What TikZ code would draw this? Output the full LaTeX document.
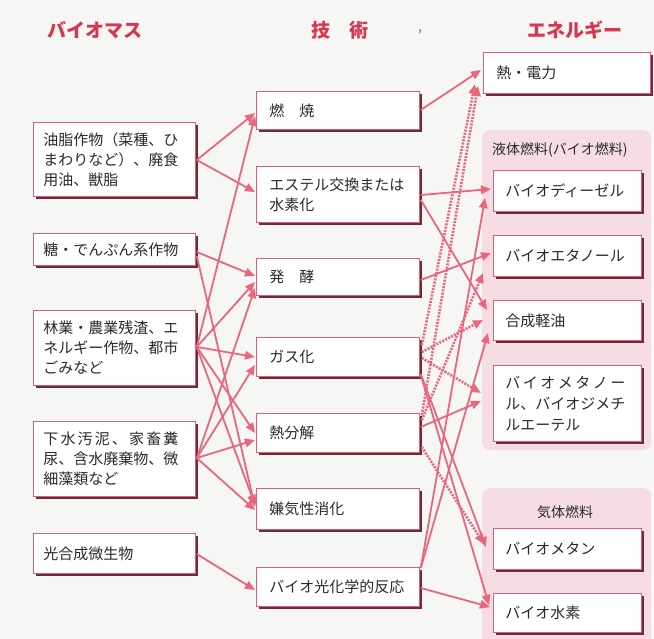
\documentclass[tikz,border=0pt]{standalone}
\usepackage{fontspec}
\newfontfamily\jp{Noto Sans CJK JP}
\usetikzlibrary{arrows.meta,shadows,calc}
\definecolor{bg}{HTML}{F6F6F4}
\definecolor{arrc}{HTML}{E8677D}
\definecolor{bord}{HTML}{D9607A}
\definecolor{shadc}{HTML}{6E2A3A}
\definecolor{headc}{HTML}{D8354F}
\definecolor{txtc}{HTML}{2A2A2A}
\definecolor{pinkc}{HTML}{F6DCE3}
\begin{document}
\begin{tikzpicture}[x=1pt,y=-1pt,
  bx/.style={draw=bord, fill=white, line width=0.8pt, anchor=north west,
    inner xsep=0pt, inner ysep=0pt, align=left,
    font=\jp\fontsize{15}{20}\selectfont, text=txtc,
    drop shadow={shadow xshift=2.6pt, shadow yshift=-2.6pt, fill=shadc, opacity=1}},
  lbox/.style={bx, minimum width=162pt, text width=142pt},
  mbox/.style={bx, minimum width=163pt, text width=137pt},
  rbox/.style={bx, minimum width=148pt, text width=124pt},
  head/.style={font=\jp\bfseries\fontsize{19}{19}\selectfont, text=headc, inner sep=0pt},
  region/.style={fill=pinkc, rounded corners=8pt, anchor=north west, inner sep=0pt, minimum width=169pt},
  rlabel/.style={font=\jp\fontsize{14}{14}\selectfont, text=txtc, inner sep=0pt},
  arr/.style={draw=arrc, line width=1.8pt, -{Triangle[length=10pt,width=8.5pt]}},
  darr/.style={arr, line width=2.6pt, dash pattern=on 2pt off 1.3pt}
]
\useasboundingbox (0,0) rectangle (654,639);
\fill[bg] (0,0) rectangle (654,639);

% headings
\node[head] (h1) at (95,30) {バイオマス};
\node[head] (h2) at (340,30) {技　術};
\node[font=\jp\fontsize{14}{14}\selectfont, text=gray, inner sep=0pt] (cm) at (420,32) {,};
\node[head] (h3) at (575,30) {エネルギー};

% regions
\node[region, minimum height=320pt] (liq) at (482,130) {};
\node[rlabel, anchor=west] (liqlab) at (492,150) {液体燃料(バイオ燃料)};
\node[region, minimum height=165pt] (gas) at (482,488) {};
\node[rlabel] (gaslab) at (565,512) {気体燃料};

% biomass
\node[lbox, minimum height=74pt] (L1) at (33,122) {油脂作物（菜種、ひ\\まわりなど）、廃食\\用油、獣脂};
\node[lbox, minimum height=32pt] (L2) at (33,233) {糖・でんぷん系作物};
\node[lbox, minimum height=75pt] (L3) at (33,310) {林業・農業残渣、エ\\ネルギー作物、都市\\ごみなど};
\node[lbox, minimum height=75pt] (L4) at (33,421) {\makebox[135pt][s]{下\hfil 水\hfil 汚\hfil 泥\hfil 、\hfil 家\hfil 畜\hfil 糞}\\尿、含水廃棄物、微\\細藻類など};
\node[lbox, minimum height=40pt] (L5) at (33,533) {光合成微生物};

% technology
\node[mbox, minimum height=38pt] (M1) at (256,91) {燃　焼};
\node[mbox, minimum height=56pt] (M2) at (256,166) {エステル交換または\\水素化};
\node[mbox, minimum height=37pt] (M3) at (256,258) {発　酵};
\node[mbox, minimum height=39pt] (M4) at (256,337) {ガス化};
\node[mbox, minimum height=39pt] (M5) at (256,413) {熱分解};
\node[mbox, minimum height=41pt] (M6) at (256,488) {嫌気性消化};
\node[mbox, minimum height=39pt] (M7) at (256,567) {バイオ光化学的反応};

% energy
\node[bx, minimum width=167pt, text width=141pt, minimum height=41pt] (R0) at (483,52) {熱・電力};
\node[rbox, minimum height=41pt] (R1) at (493,170) {バイオディーゼル};
\node[rbox, minimum height=41pt] (R2) at (493,235) {バイオエタノール};
\node[rbox, minimum height=40pt] (R3) at (493,300) {合成軽油};
\node[rbox, minimum height=76pt, font=\jp\fontsize{15}{21}\selectfont] (R4) at (493,365) {\makebox[120pt][s]{バ\hfil イ\hfil オ\hfil メ\hfil タ\hfil ノ\hfil ー}\\ル、バイオジメチ\\ルエーテル};
\node[rbox, minimum height=41pt] (R5) at (493,528) {バイオメタン};
\node[rbox, minimum height=39pt] (R6) at (493,593) {バイオ水素};

% biomass -> technology
\draw[arr] ($(L1.north east)+(1,38)$) -- ($(M1.north west)+(-1,22)$);
\draw[arr] ($(L1.north east)+(1,38)$) -- ($(M2.north west)+(-1,26)$);
\draw[arr] ($(L2.north east)+(1,19)$) -- ($(M3.north west)+(-1,18)$);
\draw[arr] ($(L2.north east)+(1,23)$) -- ($(M6.north west)+(-1,19)$);
\draw[arr] ($(L3.north east)+(1,37)$) -- ($(M1.north west)+(-1,25)$);
\draw[arr] ($(L3.north east)+(1,37)$) -- ($(M3.north west)+(-1,24)$);
\draw[arr] ($(L3.north east)+(1,37)$) -- ($(M4.north west)+(-1,20)$);
\draw[arr] ($(L3.north east)+(1,37)$) -- ($(M5.north west)+(-1,20)$);
\draw[arr] ($(L3.north east)+(1,37)$) -- ($(M6.north west)+(-1,17)$);
\draw[arr] ($(L4.north east)+(1,37)$) -- ($(M3.north west)+(-1,30)$);
\draw[arr] ($(L4.north east)+(1,37)$) -- ($(M4.north west)+(-1,28)$);
\draw[arr] ($(L4.north east)+(1,37)$) -- ($(M5.north west)+(-1,27)$);
\draw[arr] ($(L4.north east)+(1,37)$) -- ($(M6.north west)+(-1,22)$);
\draw[arr] ($(L5.north east)+(1,21)$) -- ($(M7.north west)+(-1,23)$);

% technology -> energy
\draw[arr] ($(M1.north east)+(1,19)$) -- ($(R0.north west)+(-2,18)$);
\draw[arr] ($(M2.north east)+(1,29)$) -- ($(R1.north west)+(-2,19)$);
\draw[arr] ($(M2.north east)+(1,34)$) -- ($(R3.north west)+(-6,10)$);
\draw[arr] ($(M3.north east)+(1,22)$) -- ($(R2.north west)+(-2,18)$);
\draw[darr] ($(M4.north east)+(2,8)$) -- ($(R0.north west)+(-8,32)$);
\draw[darr] ($(M5.north east)+(2,2)$) -- ($(R0.north west)+(-5,34)$);
\draw[darr] ($(M5.north east)+(2,7)$) -- ($(R2.north west)+(-10,38)$);
\draw[darr] ($(M4.north east)+(2,15)$) -- ($(R3.north west)+(-10,20)$);
\draw[darr] ($(M4.north east)+(2,21)$) -- ($(R4.north west)+(-12,28)$);
\draw[arr] ($(M5.north east)+(1,14)$) -- ($(R4.north west)+(-12,36)$);
\draw[darr] ($(M5.north east)+(2,34)$) -- ($(R5.north west)+(-9,16)$);
\draw[arr] ($(M4.north east)+(1,37)$) -- ($(R5.north west)+(-7,19)$);
\draw[arr] ($(M4.north east)+(1,38)$) -- ($(R6.north west)+(-4,12)$);
\draw[arr] ($(M7.north east)+(1,1)$) -- ($(R1.north west)+(-8,28)$);
\draw[arr] ($(M7.north east)+(1,1)$) -- ($(R3.north west)+(-5,33)$);
\draw[arr] ($(M7.north east)+(1,21)$) -- ($(R6.north west)+(-3,14)$);
\end{tikzpicture}
\end{document}
